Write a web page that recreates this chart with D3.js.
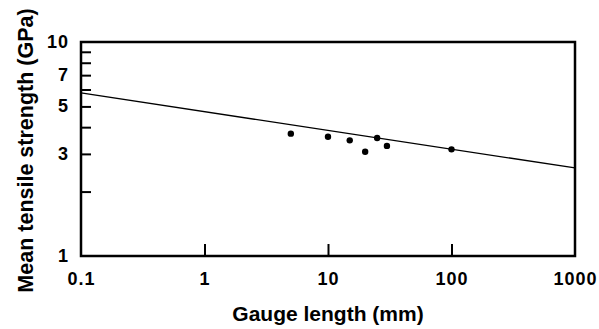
<!DOCTYPE html>
<html>
<head>
<meta charset="utf-8">
<script src="https://cdn.jsdelivr.net/npm/d3@7"></script>
<style>
  body { margin: 0; background: #fff; }
  svg { display: block; font-family: "Liberation Sans", Arial, sans-serif; }
</style>
</head>
<body>
<svg id="chart"></svg>
<script>
//Data
var gaugeLength = [5, 10, 15, 20, 25, 30, 100];
var strength = [3.73, 3.61, 3.47, 3.07, 3.56, 3.27, 3.15];

//Fitted line (end points)
var fitLength = [0.1, 1000];
var fitStrength = [5.78, 2.58];

//Ticks
var xTicks = [0.1, 1, 10, 100, 1000];
var yLabelTicks = [1, 3, 5, 7, 10];
var yMinorTicks = [2, 3, 4, 5, 6, 7, 8, 9];
var xMinorTicks = [1, 10, 100];

var dimensions = {
    width: 599,
    height: 329,
    margin: { top: 42, right: 24, bottom: 73, left: 81 }
};

var svg = d3.select("#chart")
            .attr("width", dimensions.width)
            .attr("height", dimensions.height);

var xScale = d3.scaleLog()
               .domain([0.1, 1000])
               .range([dimensions.margin.left, dimensions.width - dimensions.margin.right]);

var yScale = d3.scaleLog()
               .domain([1, 10])
               .range([dimensions.height - dimensions.margin.bottom, dimensions.margin.top]);

var x0 = xScale.range()[0], x1 = xScale.range()[1];
var y0 = yScale.range()[0], y1 = yScale.range()[1];

//Inner ticks on left
var yAxisGen = d3.axisRight(yScale).tickValues(yMinorTicks).tickSize(10).tickFormat("");
var yAxis = svg.append("g")
               .attr("transform", "translate(" + x0 + ",0)")
               .call(yAxisGen);
yAxis.select(".domain").remove();
yAxis.selectAll("line").attr("stroke", "#000").attr("stroke-width", 2);

//Inner ticks on bottom
var xAxisGen = d3.axisTop(xScale).tickValues(xMinorTicks).tickSize(12).tickFormat("");
var xAxis = svg.append("g")
               .attr("transform", "translate(0," + y0 + ")")
               .call(xAxisGen);
xAxis.select(".domain").remove();
xAxis.selectAll("line").attr("stroke", "#000").attr("stroke-width", 2);

//Frame
svg.append("rect")
   .attr("x", x0)
   .attr("y", y1)
   .attr("width", x1 - x0)
   .attr("height", y0 - y1)
   .attr("fill", "none")
   .attr("stroke", "#000")
   .attr("stroke-width", 2.5);

//Tick labels
svg.append("g").selectAll("text")
   .data(xTicks)
   .join("text")
   .attr("x", function(d){ return xScale(d) + 0.5; })
   .attr("y", y0 + 29)
   .attr("text-anchor", "middle")
   .style("font-size", "18px")
   .style("font-weight", "bold")
   .style("letter-spacing", "1px")
   .text(function(d){ return d; });

svg.append("g").selectAll("text")
   .data(yLabelTicks)
   .join("text")
   .attr("x", x0 - 12)
   .attr("y", function(d){ return yScale(d) + 6; })
   .attr("text-anchor", "end")
   .style("font-size", "18px")
   .style("font-weight", "bold")
   .style("letter-spacing", "1px")
   .text(function(d){ return d; });

//Axis titles
svg.append("text")
   .attr("x", (x0 + x1) / 2)
   .attr("y", 321)
   .attr("text-anchor", "middle")
   .style("font-size", "21px")
   .style("font-weight", "bold")
   .text("Gauge length (mm)");

svg.append("text")
   .attr("transform", "rotate(-90)")
   .attr("x", -150.5)
   .attr("y", 33)
   .attr("text-anchor", "middle")
   .style("font-size", "21.5px")
   .style("font-weight", "bold")
   .text("Mean tensile strength (GPa)");

//Fit line
var line = d3.line()
             .x(function(d){ return xScale(d[0]); })
             .y(function(d){ return yScale(d[1]); });

svg.append("path")
   .datum(d3.zip(fitLength, fitStrength))
   .attr("d", line)
   .attr("fill", "none")
   .attr("stroke", "#000")
   .attr("stroke-width", 1.3);

//Points
svg.append("g").selectAll("circle")
   .data(d3.zip(gaugeLength, strength))
   .join("circle")
   .attr("cx", function(d){ return xScale(d[0]); })
   .attr("cy", function(d){ return yScale(d[1]); })
   .attr("r", 3.2)
   .attr("fill", "#000");
</script>
</body>
</html>
